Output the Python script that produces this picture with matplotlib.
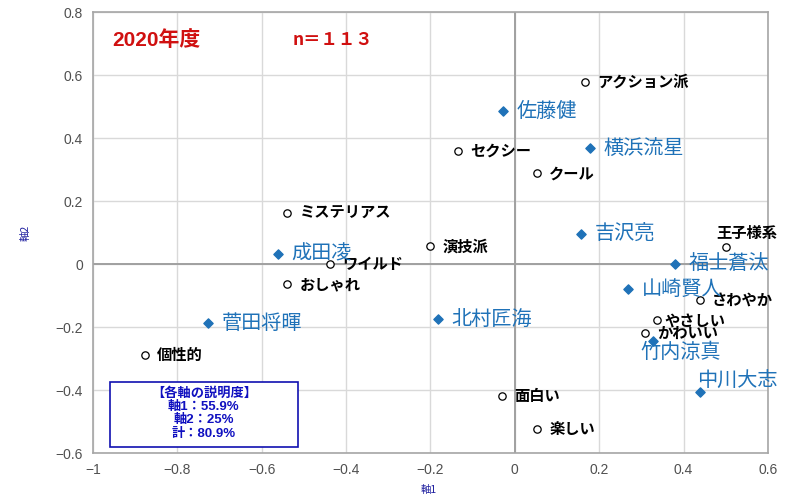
import matplotlib
matplotlib.use("Agg")
import matplotlib.pyplot as plt
from matplotlib.patches import Rectangle

plt.rcParams['font.family'] = ['Noto Sans CJK JP', 'DejaVu Sans']

# Attribute words (open circles)
attr_names = ["アクション派", "セクシー", "クール", "ミステリアス", "演技派", "王子様系",
              "ワイルド", "おしゃれ", "さわやか", "やさしい", "かわいい", "個性的", "面白い", "楽しい"]
attr_x = [0.166, -0.135, 0.052, -0.540, -0.201, 0.500, -0.438, -0.540, 0.438, 0.337, 0.308, -0.877, -0.031, 0.052]
attr_y = [0.578, 0.359, 0.289, 0.162, 0.057, 0.054, 0.000, -0.063, -0.114, -0.178, -0.219, -0.289, -0.419, -0.524]

# Actors (blue diamonds)
actor_names = ["佐藤健", "横浜流星", "吉沢亮", "成田凌", "福士蒼汰", "山崎賢人",
               "菅田将暉", "北村匠海", "竹内涼真", "中川大志"]
actor_x = [-0.028, 0.178, 0.156, -0.562, 0.379, 0.268, -0.728, -0.183, 0.327, 0.438]
actor_y = [0.486, 0.368, 0.095, 0.032, 0.000, -0.079, -0.187, -0.175, -0.244, -0.406]

x_ticks = [-1, -0.8, -0.6, -0.4, -0.2, 0, 0.2, 0.4, 0.6]
y_ticks = [-0.6, -0.4, -0.2, 0, 0.2, 0.4, 0.6, 0.8]

box_lines = ["【各軸の説明度】", "軸1：55.9%", "軸2：25%", "計：80.9%"]

BLUE = "#1f72b8"
fig = plt.figure(figsize=(8.0, 5.03), dpi=100)
ax = fig.add_axes([0.116, 0.099, 0.844, 0.877])
ax.set_xlim(-1, 0.6)
ax.set_ylim(-0.6, 0.8)
ax.set_xticks(x_ticks)
ax.set_yticks(y_ticks)
ax.set_xticklabels([f"{t:g}".replace("-", "\u2212") for t in x_ticks])
ax.set_yticklabels([f"{t:g}".replace("-", "\u2212") for t in y_ticks])
ax.tick_params(axis='both', length=0, labelsize=10, labelcolor="#505050", pad=7)
for lab in ax.get_xticklabels() + ax.get_yticklabels():
    lab.set_family(['Liberation Sans', 'DejaVu Sans'])
ax.grid(True, color="#d9d9d9", linewidth=1.0)
ax.set_axisbelow(True)
for s in ax.spines.values():
    s.set_color("#a6a6a6")
    s.set_linewidth(1.2)
ax.axhline(0, color="#a0a0a0", linewidth=1.4, zorder=1)
ax.axvline(0, color="#a0a0a0", linewidth=1.4, zorder=1)

ax.set_xlabel("軸1", color="#2020a0", fontsize=7.5)
ax.set_ylabel("軸2", color="#2020a0", fontsize=7.5)
ax.xaxis.set_label_coords(0.497, -0.073)
ax.yaxis.set_label_coords(-0.092, 0.5)

ax.scatter(attr_x, attr_y, s=28, facecolors="white", edgecolors="black", linewidths=0.9, zorder=3)
ax.scatter(actor_x, actor_y, s=22, marker="D", color=BLUE, zorder=3)

attr_off = {"王子様系": (-7, 10, 'left', 'center'), "やさしい": (5, 0, 'left', 'center')}
for n, x, y in zip(attr_names, attr_x, attr_y):
    dx, dy, ha, va = attr_off.get(n, (9, 0, 'left', 'center'))
    ax.annotate(n, (x, y), xytext=(dx, dy), textcoords="offset points", ha=ha, va=va,
                fontsize=11, fontweight="bold", color="black", annotation_clip=False, zorder=4)

actor_off = {"竹内涼真": (-9, -8, 'left', 'center'), "中川大志": (-2, 8, 'left', 'center')}
for n, x, y in zip(actor_names, actor_x, actor_y):
    dx, dy, ha, va = actor_off.get(n, (10, 0, 'left', 'center'))
    ax.annotate(n, (x, y), xytext=(dx, dy), textcoords="offset points", ha=ha, va=va,
                fontsize=14.5, color=BLUE, annotation_clip=False, zorder=4)

ax.text(-0.953, 0.712, "2020年度", color="#d01010", fontsize=15, fontweight="bold", va="center",
        family=['Liberation Sans', 'Noto Sans CJK JP'])
ax.text(-0.526, 0.712, "n＝１１３", color="#d01010", fontsize=12.5, fontweight="bold", va="center")

rect = Rectangle((-0.960, -0.581), 0.446, 0.206, facecolor="white", edgecolor="#1010b0",
                 linewidth=1.2, zorder=5)
ax.add_patch(rect)
ys = [-0.410, -0.452, -0.495, -0.538]
for t, yy in zip(box_lines, ys):
    ax.text(-0.737, yy, t, ha="center", va="center", color="#1010c0", fontsize=9.5,
            fontweight="bold", zorder=6, family=['Liberation Sans', 'Noto Sans CJK JP'])

fig.savefig("out.png", dpi=100)
